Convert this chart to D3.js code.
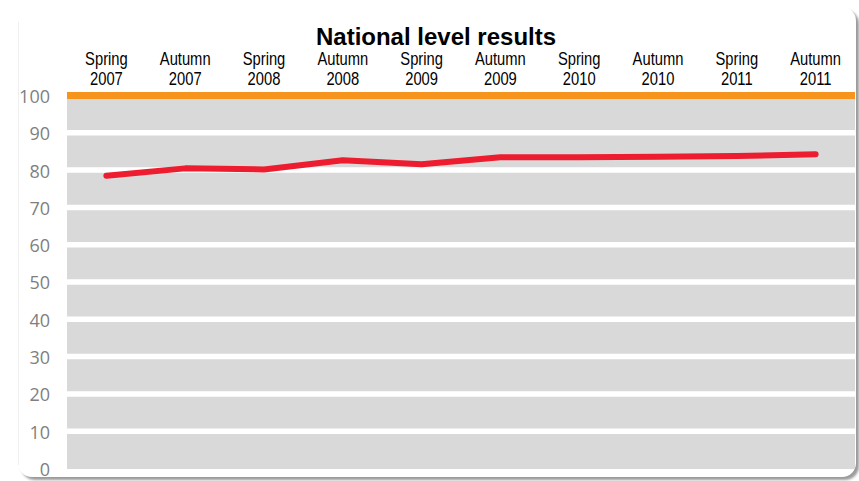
<!DOCTYPE html>
<html>
<head>
<meta charset="utf-8">
<script src="https://cdn.jsdelivr.net/npm/d3@7"></script>
<style>
  html, body { margin: 0; padding: 0; background: #ffffff; }
  svg { display: block; }
</style>
</head>
<body>
<svg id="chart" width="859" height="481"></svg>
<script>
// Survey periods and national results (percent)
const seasons = ["Spring", "Autumn", "Spring", "Autumn", "Spring", "Autumn", "Spring", "Autumn", "Spring", "Autumn"];
const years = ["2007", "2007", "2008", "2008", "2009", "2009", "2010", "2010", "2011", "2011"];
const periods = seasons.map((s, i) => s + " " + years[i]);
const results = [78.6, 80.6, 80.3, 82.8, 81.7, 83.6, 83.6, 83.7, 83.9, 84.4];
const yTicks = [0, 10, 20, 30, 40, 50, 60, 70, 80, 90, 100];
const title = "National level results";

const W = 859, H = 481;
const plot = { left: 67, right: 855, top: 96, bottom: 469 };

const svg = d3.select("#chart");

// Card with soft shadow on the right and bottom
const defs = svg.append("defs");
const blur = defs.append("filter").attr("id", "cardShadow")
  .attr("x", "-5%").attr("y", "-5%").attr("width", "110%").attr("height", "110%");
blur.append("feGaussianBlur").attr("stdDeviation", 1.2);

svg.append("rect")
  .attr("x", 21).attr("y", 10).attr("width", 838).attr("height", 470)
  .attr("rx", 14).attr("fill", "#9c9c9c").attr("filter", "url(#cardShadow)");
svg.append("rect")
  .attr("x", 18).attr("y", 7).attr("width", 838).attr("height", 470)
  .attr("rx", 14).attr("fill", "#ffffff");
// faint left edge of the card
svg.append("line")
  .attr("x1", 18.5).attr("x2", 18.5).attr("y1", 22).attr("y2", 465)
  .attr("stroke", "#efefef").attr("stroke-width", 1);

const x = d3.scaleBand().domain(periods).range([plot.left, plot.right]);
const y = d3.scaleLinear().domain([0, 100]).range([plot.bottom, plot.top]);

// Plot background
svg.append("rect")
  .attr("x", plot.left).attr("y", y(100))
  .attr("width", plot.right - plot.left).attr("height", y(0) - y(100))
  .attr("fill", "#d9d9d9");

// Gridlines as wide white bands, top line in orange
svg.append("g").selectAll("line")
  .data(yTicks.filter(v => v > 0))
  .join("line")
  .attr("x1", plot.left).attr("x2", plot.right)
  .attr("y1", d => y(d) - 0.5).attr("y2", d => y(d) - 0.5)
  .attr("stroke", d => d === 100 ? "#f7941d" : "#ffffff")
  .attr("stroke-width", d => d === 100 ? 7 : 5.5);

// Y axis labels
const yAxis = d3.axisLeft(y).tickValues(yTicks).tickSize(0).tickPadding(0);
const gy = svg.append("g").attr("transform", "translate(50,0)").call(yAxis);
gy.select(".domain").remove();
gy.selectAll("text")
  .attr("fill", "#7f7f7f")
  .attr("font-family", "'Open Sans', sans-serif")
  .attr("font-size", 18)
  .attr("dy", "0.36em");

// Category labels on two lines above the plot
const gx = svg.append("g");
periods.forEach((p, i) => {
  const cx = x(p) + x.bandwidth() / 2;
  const t = gx.append("g").attr("transform", `translate(${cx},0) scale(0.82,1)`);
  t.append("text").attr("y", 65).attr("text-anchor", "middle")
    .attr("font-family", "'Liberation Sans', Arial, sans-serif").attr("font-size", 18)
    .attr("fill", "#000").text(seasons[i]);
  t.append("text").attr("y", 85).attr("text-anchor", "middle")
    .attr("font-family", "'Liberation Sans', Arial, sans-serif").attr("font-size", 18)
    .attr("fill", "#000").text(years[i]);
});

// Title
svg.append("text")
  .attr("x", 436).attr("y", 45).attr("text-anchor", "middle")
  .attr("font-family", "'Liberation Sans', Arial, sans-serif")
  .attr("font-weight", "bold").attr("font-size", 24)
  .attr("fill", "#000").text(title);

// Results line
const line = d3.line()
  .x((d, i) => x(periods[i]) + x.bandwidth() / 2)
  .y(d => y(d));
svg.append("path")
  .datum(results)
  .attr("d", line)
  .attr("fill", "none")
  .attr("stroke", "#ed1c2e")
  .attr("stroke-width", 6)
  .attr("stroke-linecap", "round")
  .attr("stroke-linejoin", "round");
</script>
</body>
</html>
